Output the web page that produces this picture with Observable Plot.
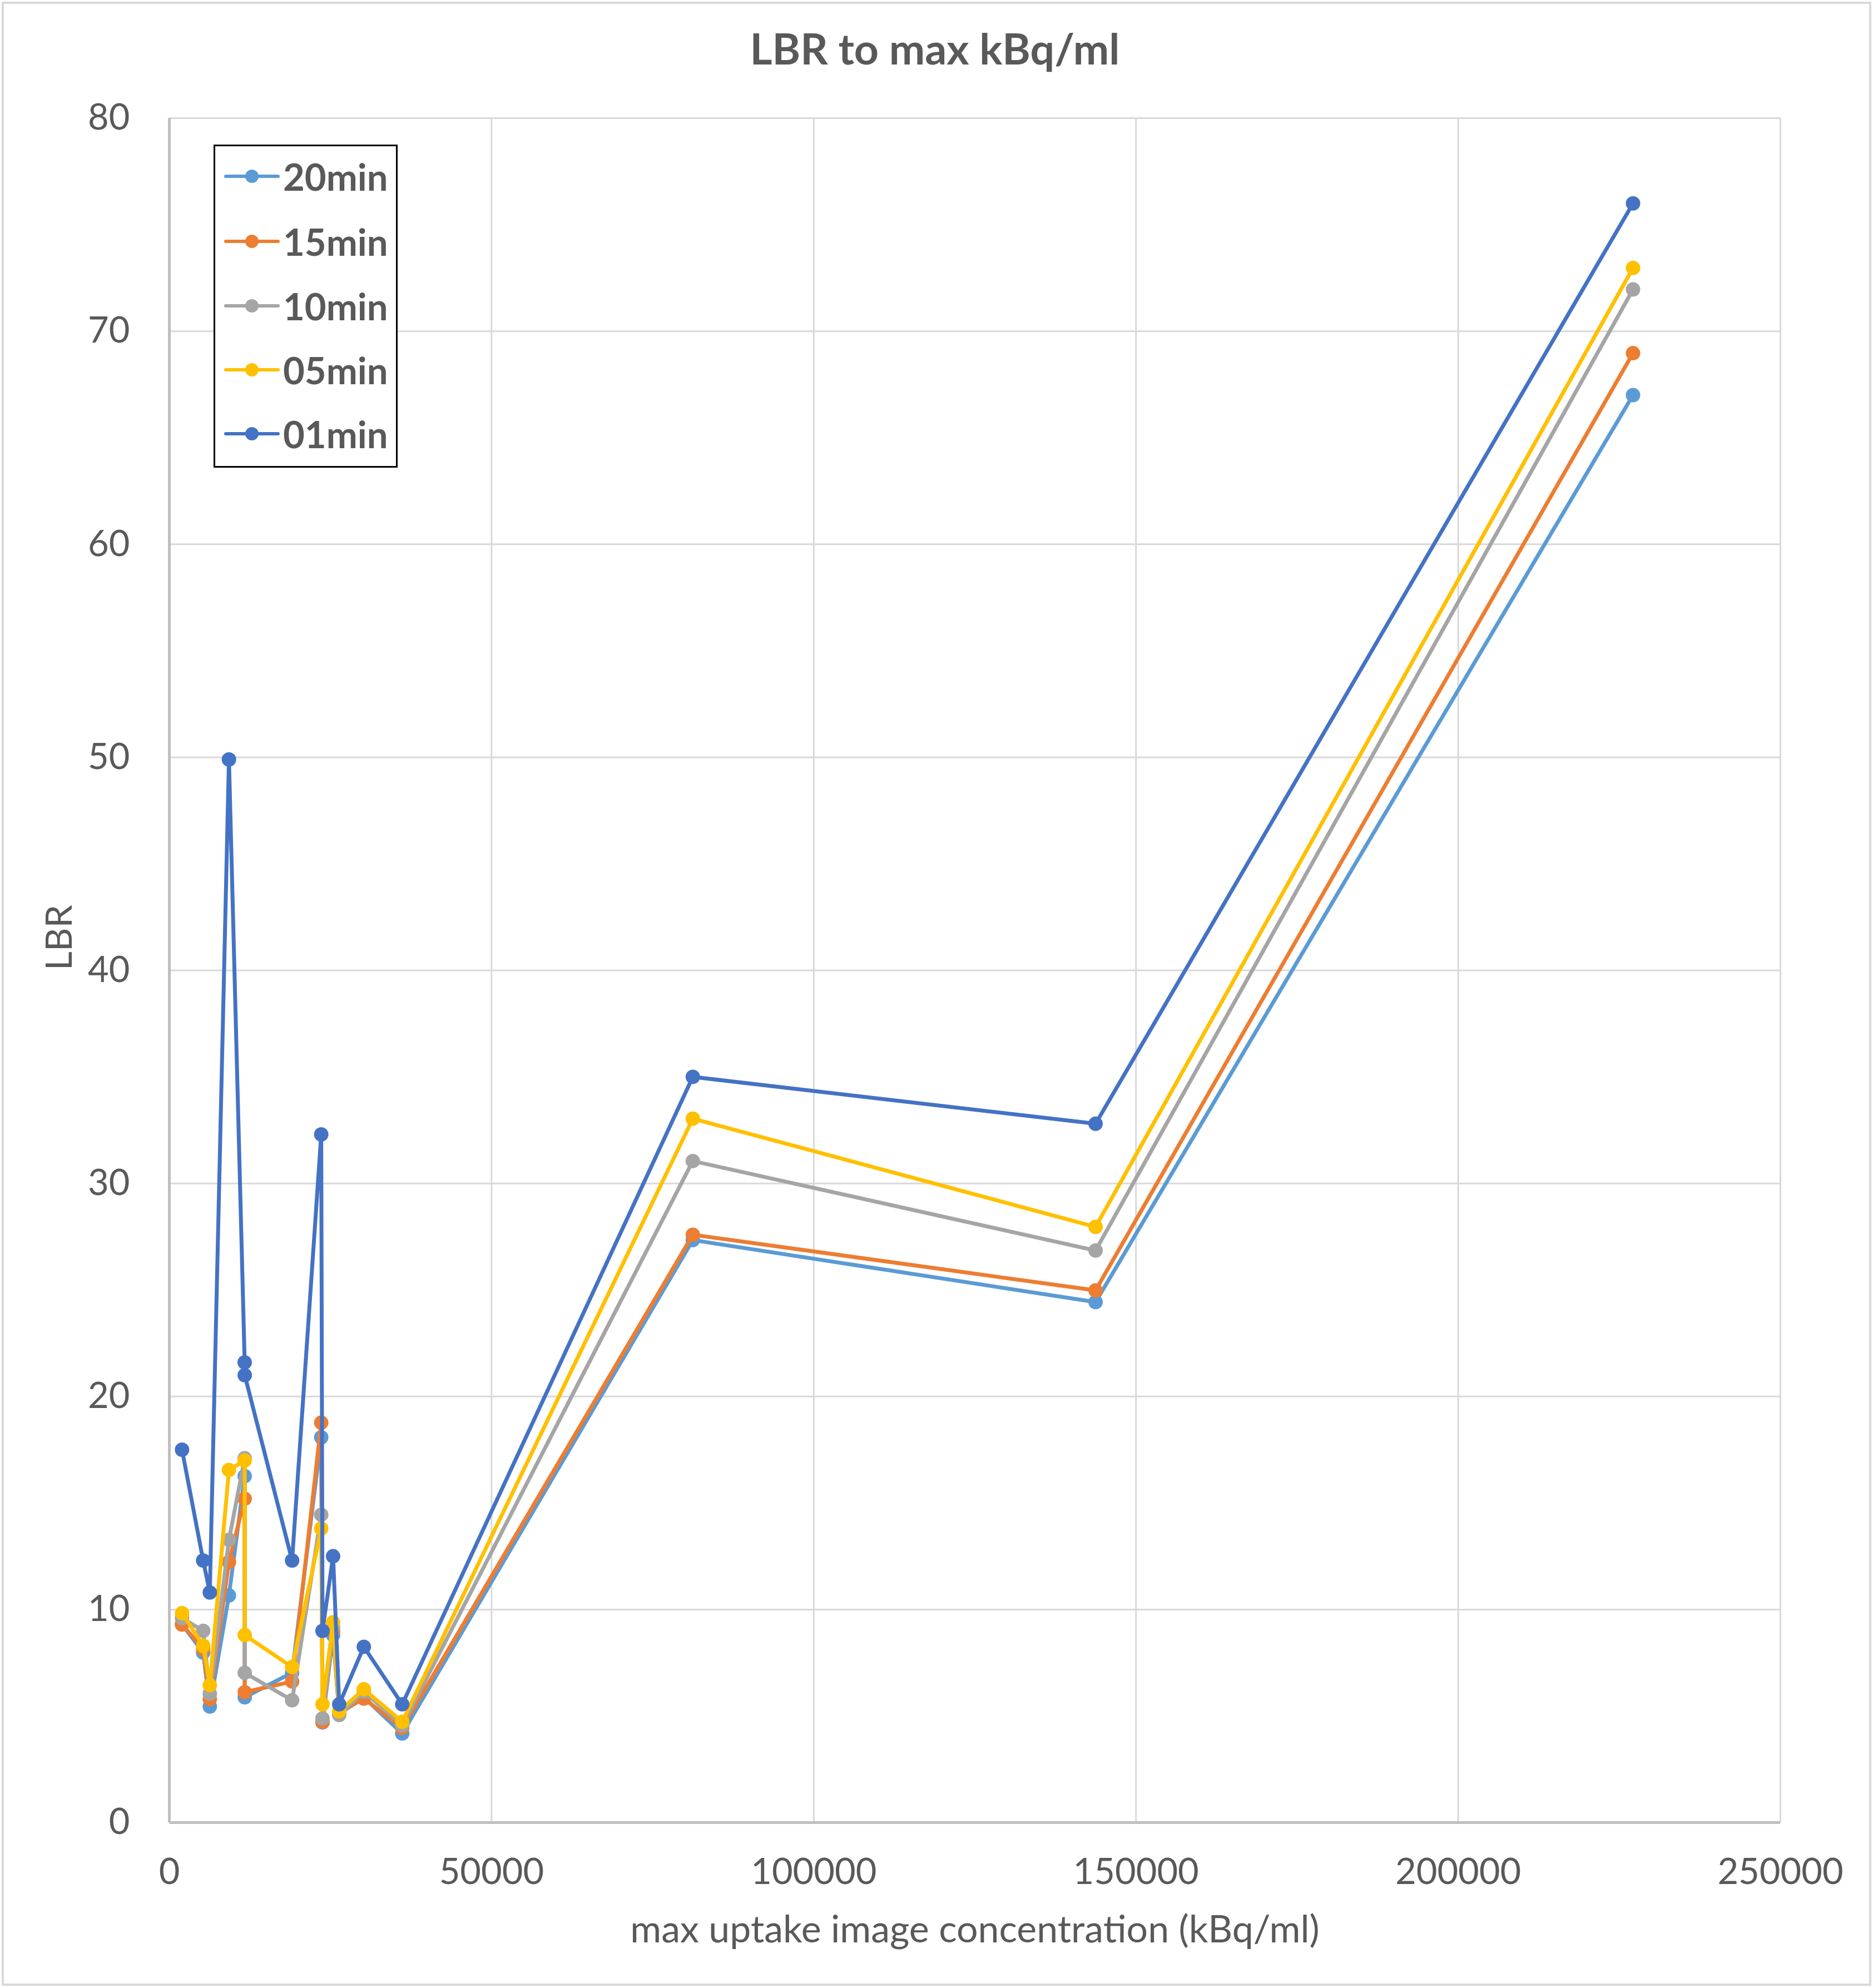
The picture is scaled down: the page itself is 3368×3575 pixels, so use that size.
<!DOCTYPE html>
<html>
<head>
<meta charset="utf-8">
<script src="https://cdn.jsdelivr.net/npm/d3@7"></script>
<script src="https://cdn.jsdelivr.net/npm/@observablehq/plot@0.6"></script>
<style>
  body { margin: 0; background: #ffffff; }
  #wrap { position: relative; width: 3368px; height: 3575px; overflow: hidden; background: #fff; font-family: Lato, "Open Sans", sans-serif; }
  #border { position: absolute; left: 3px; top: 3px; width: 3354px; height: 3560px; border: 4px solid #D9D9D9; pointer-events: none; }
  #legend { position: absolute; left: 384px; top: 260px; width: 325px; height: 575px; border: 3px solid #000; background: #fff; }
  .entry { position: absolute; left: 0; height: 80px; display: flex; align-items: center; }
  .entry svg { display: block; }
  .entry span { font-family: Lato, sans-serif; font-weight: bold; font-size: 67px; color: #595959; margin-left: 4px; }
</style>
</head>
<body>
<div id="wrap"><div id="border"></div></div>
<script>
// ---- data ----
const concentration = [1970, 5250, 6280, 9250, 11690, 11700, 19050, 23570, 23770, 25410, 26360, 30180, 36140, 81230, 143730, 227130];
const lbr20min = [9.3, 7.98, 5.45, 10.66, 16.26, 5.88, 7.03, 18.08, 4.7, 8.8, 5.1, 5.88, 4.18, 27.34, 24.43, 67.0];
const lbr15min = [9.3, 8.15, 5.8, 12.23, 15.2, 6.12, 6.62, 18.77, 4.73, 9.0, 5.16, 5.82, 4.45, 27.59, 24.98, 68.97];
const lbr10min = [9.6, 9.0, 6.05, 13.27, 17.1, 7.03, 5.74, 14.45, 4.89, 9.2, 5.05, 6.15, 4.56, 31.05, 26.85, 71.96];
const lbr05min = [9.83, 8.3, 6.45, 16.55, 17.0, 8.8, 7.3, 13.8, 5.55, 9.4, 5.22, 6.26, 4.73, 33.04, 27.96, 72.97];
const lbr01min = [17.5, 12.3, 10.8, 49.9, 21.6, 21.0, 12.3, 32.3, 9.0, 12.5, 5.55, 8.25, 5.55, 35.0, 32.8, 76.0];
const seriesNames = ["20min", "15min", "10min", "05min", "01min"];
const seriesColors = ["#5B9BD5", "#ED7D31", "#A5A5A5", "#FFC000", "#4472C4"];
const xTicks = [0, 50000, 100000, 150000, 200000, 250000];
const yTicks = [0, 10, 20, 30, 40, 50, 60, 70, 80];
const titleText = "LBR to max kBq/ml";
const xLabel = "max uptake image concentration (kBq/ml)";
const yLabel = "LBR";

const seriesValues = [lbr20min, lbr15min, lbr10min, lbr05min, lbr01min];
const rows = seriesNames.map((name, i) =>
  concentration.map((x, j) => ({ series: name, x, y: seriesValues[i][j] }))
);

const textColor = "#595959";
const seriesMarks = rows.flatMap((data, i) => [
  Plot.line(data, { x: "x", y: "y", stroke: seriesColors[i], strokeWidth: 7, strokeLinejoin: "round", strokeLinecap: "round" }),
  Plot.dot(data, { x: "x", y: "y", r: 13, fill: seriesColors[i], stroke: "none" })
]);

const chart = Plot.plot({
  width: 3368,
  height: 3575,
  marginTop: 212,
  marginRight: 167,
  marginBottom: 298,
  marginLeft: 304,
  style: { fontFamily: "Lato, sans-serif", background: "transparent", color: textColor },
  x: { domain: [0, 250000] },
  y: { domain: [0, 80] },
  marks: [
    Plot.gridX(xTicks.slice(1), { stroke: "#D9D9D9", strokeOpacity: 1, strokeWidth: 3 }),
    Plot.gridY(yTicks.slice(1), { stroke: "#D9D9D9", strokeOpacity: 1, strokeWidth: 3 }),
    Plot.ruleY([0], { stroke: "#BFBFBF", strokeWidth: 5 }),
    Plot.ruleX([0], { stroke: "#BFBFBF", strokeWidth: 5 }),
    Plot.axisY({ ticks: yTicks, tickSize: 0, tickPadding: 71, fontSize: 65, fill: textColor, label: null, tickFormat: d => String(d) }),
    Plot.axisX({ ticks: xTicks, tickSize: 0, tickPadding: 64, fontSize: 65, fill: textColor, label: null, tickFormat: d => String(d) }),
    ...seriesMarks,
    Plot.text([titleText], { frameAnchor: "top", dx: -72, dy: -121, lineAnchor: "middle", fontSize: 77, fontWeight: "bold", fill: textColor }),
    Plot.text([xLabel], { frameAnchor: "bottom", dy: 194, lineAnchor: "middle", fontSize: 68, fill: textColor }),
    Plot.text([yLabel], { frameAnchor: "left", dx: -197, rotate: -90, lineAnchor: "middle", fontSize: 66, fill: textColor })
  ]
});
const wrap = document.getElementById("wrap");
chart.style.position = "absolute";
chart.style.left = "0px";
chart.style.top = "0px";
wrap.insertBefore(chart, wrap.firstChild);

// legend
const legend = document.createElement("div");
legend.id = "legend";
const entryTops = [14, 131, 247, 362, 477];
seriesNames.forEach((name, i) => {
  const e = document.createElement("div");
  e.className = "entry";
  e.style.top = entryTops[i] + "px";
  e.innerHTML = `<svg width="118" height="80"><line x1="19" y1="40" x2="113" y2="40" stroke="${seriesColors[i]}" stroke-width="6" stroke-linecap="round"/><circle cx="66" cy="40" r="12" fill="${seriesColors[i]}"/></svg><span>${name}</span>`;
  legend.appendChild(e);
});
wrap.appendChild(legend);
</script>
</body>
</html>
